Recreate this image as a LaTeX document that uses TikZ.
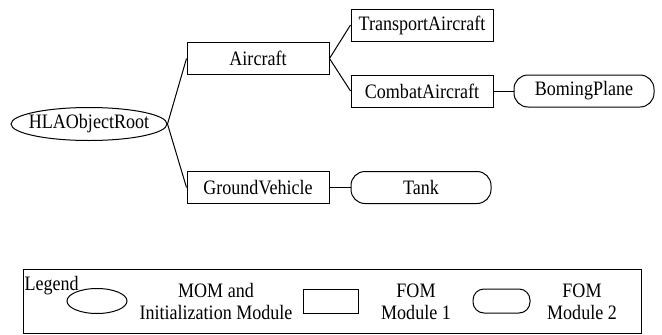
\documentclass[tikz,border=0pt]{standalone}
\usepackage{fontspec}
\setmainfont{Liberation Serif}[FakeStretch=0.88]
\usetikzlibrary{shapes.geometric}
\begin{document}
\begin{tikzpicture}[x=1pt,y=-1pt, line width=1pt,
  every node/.style={font=\fontsize{20.5}{22}\selectfont, inner sep=0pt},
  boxnode/.style={draw, rectangle, minimum width=142pt, minimum height=32pt},
  roundnode/.style={draw, rectangle, rounded corners=14pt, minimum width=140pt, minimum height=32pt},
  ovalnode/.style={rectangle, minimum width=156pt, minimum height=33pt},
  link/.style={draw}]
\useasboundingbox (0,0) rectangle (662,335);
% tree
\node[ovalnode] (root) at (89,124) {HLAObjectRoot};
\draw (root.center) ellipse [x radius=78pt, y radius=16.5pt];
\node[boxnode] (aircraft) at (258,58.5) {Aircraft};
\node[boxnode] (transport) at (422,25) {TransportAircraft};
\node[boxnode] (combat) at (422,91) {CombatAircraft};
\node[roundnode] (boming) at (584,91) {BomingPlane};
\node[boxnode] (ground) at (258,187.5) {GroundVehicle};
\node[roundnode] (tank) at (421,187.5) {Tank};
\draw[link] (root.east) -- (aircraft.west);
\draw[link] (root.east) -- (ground.west);
\draw[link] (aircraft.east) -- (transport.west);
\draw[link] (aircraft.east) -- (combat.west);
\draw[link] (combat.east) -- (boming.west);
\draw[link] (ground.east) -- (tank.west);
% legend
\node[draw, rectangle, minimum width=618pt, minimum height=64pt] (legendbox) at (332,301) {};
\node[anchor=base west] (legendlabel) at (24,290) {Legend};
\node[draw, ellipse, minimum width=60pt, minimum height=25pt] (legoval) at (97,301) {};
\node[anchor=base] (momA) at (216,297) {MOM and};
\node[anchor=base] (momB) at (216,319) {Initialization Module};
\node[draw, rectangle, minimum width=55pt, minimum height=24pt] (legrect) at (330.5,301) {};
\node[anchor=base] (fomA) at (416,297) {FOM};
\node[anchor=base] (fomB) at (416,319) {Module 1};
\node[draw, rectangle, rounded corners=11pt, minimum width=57pt, minimum height=24pt] (leground) at (501.5,301) {};
\node[anchor=base] (fomC) at (582,297) {FOM};
\node[anchor=base] (fomD) at (582,319) {Module 2};
\end{tikzpicture}
\end{document}
